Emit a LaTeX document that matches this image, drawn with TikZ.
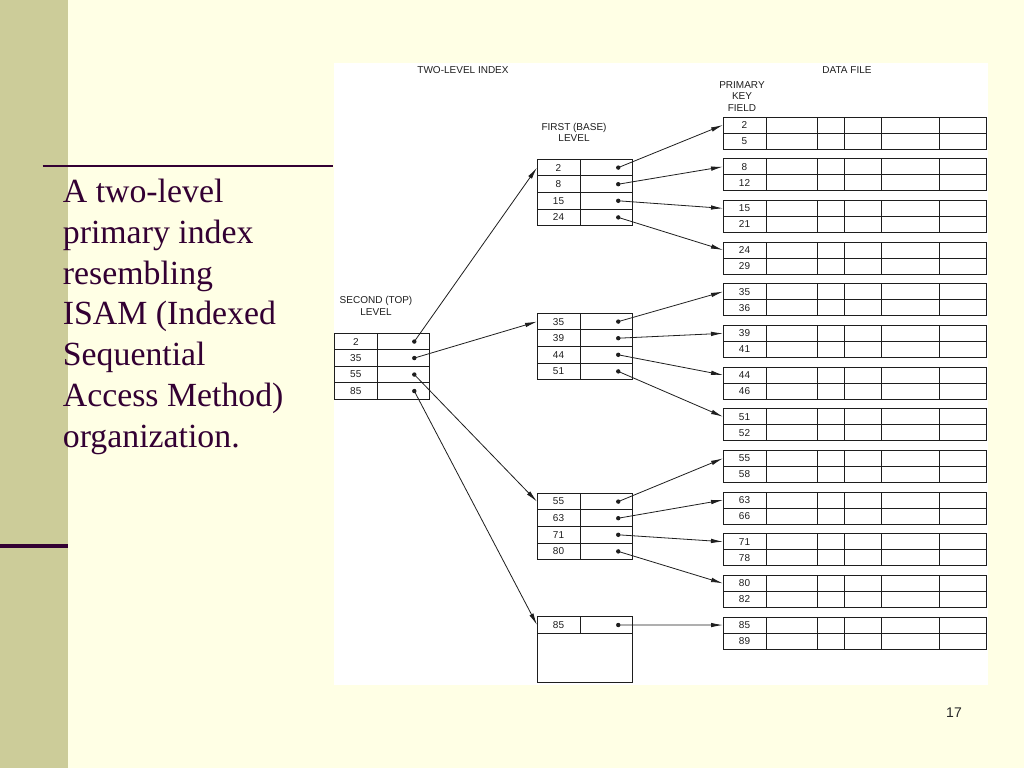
\documentclass[tikz,border=0pt]{standalone}
\usepackage{fontspec}
\setmainfont{Liberation Serif}
\newfontfamily\figfont{Liberation Sans}
\usetikzlibrary{arrows.meta}

\definecolor{slidebg}{RGB}{255,255,229}
\definecolor{slidebar}{RGB}{204,204,153}
\definecolor{slideink}{RGB}{51,0,51}
\definecolor{figink}{RGB}{30,30,30}

\tikzset{
  key/.style={draw=figink, line width=0.85pt, minimum width=43pt, minimum height=16.6pt,
    inner sep=0pt, outer sep=0pt, anchor=north west, text=figink,
    font=\figfont\fontsize{10}{11}\selectfont},
  ptr/.style={key, minimum width=52.5pt},
  dat/.style={key, minimum height=16pt},
  lbl/.style={inner sep=0pt, align=center, text=figink, font=\figfont\fontsize{10}{11.5}\selectfont},
  link/.style={->, draw=figink, line width=0.8pt},
}

\begin{document}
\begin{tikzpicture}[x=1pt, y=-1pt, >={Latex[length=12pt,width=4.5pt]}]
  \useasboundingbox (0,0) rectangle (1024,768);
  \fill [slidebg] (0,0) rectangle (1024,768);
  \fill [slidebar] (0,0) rectangle (68.3,768);
  \draw [slideink, line width=2.5pt] (42.7,166) -- (333,166);
  \draw [slideink, line width=4pt] (0,545.7) -- (68.3,545.7);
  \draw (62.7,447.3) node [anchor=base west, inner sep=0pt, align=left, text=slideink,
    font=\fontsize{33.8}{40.8}\selectfont] (caption)
    {A two-level\\primary index\\resembling\\ISAM (Indexed\\Sequential\\Access Method)\\organization.};
  \draw (954,713) node [text=black!85, font=\figfont\fontsize{14}{16}\selectfont] (pagenum) {17};

  % white sheet of the figure
  \fill [white] (334,62.5) rectangle (988,685);
  \draw (463,70) node [lbl] (twolevel) {TWO-LEVEL INDEX};
  \draw (847,70) node [lbl] (datafile) {DATA FILE};
  \draw (742,96.3) node [lbl] (pkfield) {PRIMARY\\KEY\\FIELD};
  \draw (574,132.5) node [lbl] (firstlbl) {FIRST (BASE)\\LEVEL};
  \draw (376,306) node [lbl] (secondlbl) {SECOND (TOP)\\LEVEL};

  % data file blocks
  \foreach \a/\b [count=\i] in {2/5, 8/12, 15/21, 24/29, 35/36, 39/41, 44/46,
      51/52, 55/58, 63/66, 71/78, 80/82, 85/89} {
    \pgfmathsetmacro{\t}{75.33+41.67*\i}
    \draw (723,\t) node [dat] (d\i) {\a};
    \draw (d\i.south west) node [dat] (e\i) {\b};
    \draw [figink, line width=0.85pt] (d\i.north east) rectangle (986,\t+32);
    \draw [figink, line width=0.85pt] (d\i.south east) -- (986,\t+16);
    \foreach \c in {817,844,881,939}
      \draw [figink, line width=0.85pt] (\c,\t) -- (\c,\t+32);
  }

  % first (base) level
  \foreach \k/\t [count=\n] in {2/159.3, 8/175.9, 15/192.5, 24/209.1, 35/313.3, 39/329.9,
      44/346.5, 51/363.1, 55/493.3, 63/509.9, 71/526.5, 80/543.1, 85/616.7} {
    \draw (537,\t) node [key] (f\n) {\k};
    \draw (f\n.north east) node [ptr] (g\n) {};
    \fill [figink] ([xshift=12pt]g\n.center) circle (2.2pt);
    \draw [link] ([xshift=12pt]g\n.center) -- (d\n.west);
  }
  \draw [figink, line width=0.85pt] (f13.south west) rectangle (632.5,682.3);

  % second (top) level
  \foreach \k/\t/\f [count=\n] in {2/333.3/1, 35/349.8/5, 55/366.3/9, 85/382.8/13} {
    \draw (334.3,\t) node [key, minimum height=16.5pt] (s\n) {\k};
    \draw (s\n.north east) node [ptr, minimum width=52pt, minimum height=16.5pt] (p\n) {};
    \fill [figink] ([xshift=11pt]p\n.center) circle (2.2pt);
    \draw [link] ([xshift=11pt]p\n.center) -- (f\f.west);
  }
\end{tikzpicture}
\end{document}
